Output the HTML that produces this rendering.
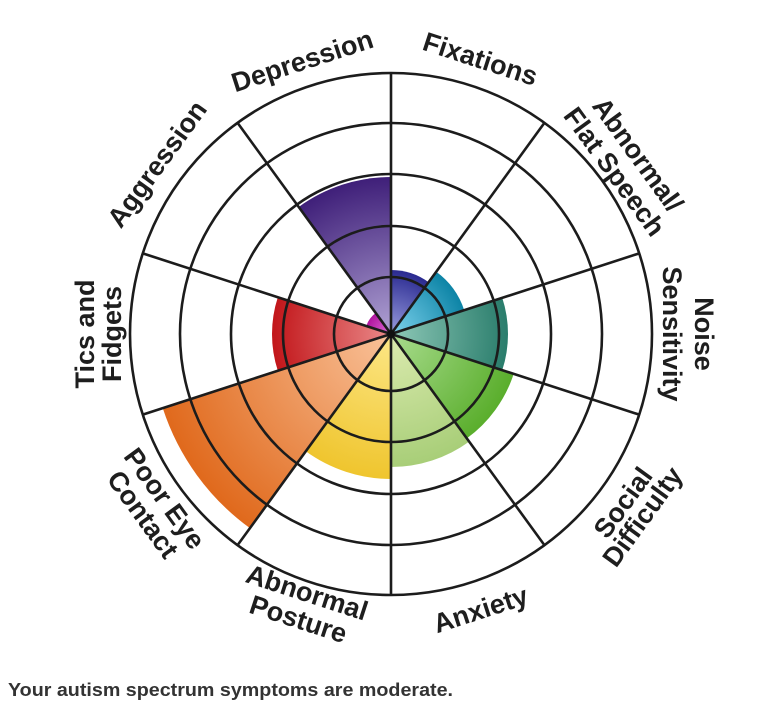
<!DOCTYPE html>
<html><head><meta charset="utf-8"><style>
html,body{margin:0;padding:0;background:#fff;width:784px;height:709px;overflow:hidden}
svg{display:block}
text{font-family:"Liberation Sans",sans-serif;font-weight:bold;fill:#1e1e1e}
</style></head><body>
<svg width="784" height="709" viewBox="0 0 784 709" xmlns="http://www.w3.org/2000/svg">
<defs>
<radialGradient id="g0" gradientUnits="userSpaceOnUse" cx="0" cy="0" r="64"><stop offset="0" stop-color="#9a9ee0"/><stop offset="1" stop-color="#2a2a90"/></radialGradient>
<radialGradient id="g1" gradientUnits="userSpaceOnUse" cx="0" cy="0" r="77"><stop offset="0" stop-color="#7fd3ee"/><stop offset="1" stop-color="#0d84a6"/></radialGradient>
<radialGradient id="g2" gradientUnits="userSpaceOnUse" cx="0" cy="0" r="117"><stop offset="0" stop-color="#8fc9b8"/><stop offset="1" stop-color="#2a7d6c"/></radialGradient>
<radialGradient id="g3" gradientUnits="userSpaceOnUse" cx="0" cy="0" r="129"><stop offset="0" stop-color="#a9dc8e"/><stop offset="1" stop-color="#5aae2c"/></radialGradient>
<radialGradient id="g4" gradientUnits="userSpaceOnUse" cx="0" cy="0" r="133"><stop offset="0" stop-color="#dcebb0"/><stop offset="1" stop-color="#a8ce78"/></radialGradient>
<radialGradient id="g5" gradientUnits="userSpaceOnUse" cx="0" cy="0" r="145"><stop offset="0" stop-color="#fde787"/><stop offset="1" stop-color="#efc52e"/></radialGradient>
<radialGradient id="g6" gradientUnits="userSpaceOnUse" cx="0" cy="0" r="240"><stop offset="0" stop-color="#f9c29a"/><stop offset="1" stop-color="#e0691c"/></radialGradient>
<radialGradient id="g7" gradientUnits="userSpaceOnUse" cx="0" cy="0" r="119"><stop offset="0" stop-color="#ea8a8a"/><stop offset="1" stop-color="#c2161a"/></radialGradient>
<radialGradient id="g8" gradientUnits="userSpaceOnUse" cx="0" cy="0" r="26"><stop offset="0" stop-color="#e070d8"/><stop offset="1" stop-color="#b0149e"/></radialGradient>
<radialGradient id="g9" gradientUnits="userSpaceOnUse" cx="0" cy="0" r="157"><stop offset="0" stop-color="#b0a2d4"/><stop offset="1" stop-color="#3f1f79"/></radialGradient>
</defs>
<g transform="translate(391,334)">
<path transform="rotate(0)" d="M0,0 L0,-64 A64,64 0 0 1 37.62,-51.78 Z" fill="url(#g0)"/>
<path transform="rotate(36)" d="M0,0 L0,-77 A77,77 0 0 1 45.26,-62.29 Z" fill="url(#g1)"/>
<path transform="rotate(72)" d="M0,0 L0,-117 A117,117 0 0 1 68.77,-94.65 Z" fill="url(#g2)"/>
<path transform="rotate(108)" d="M0,0 L0,-129 A129,129 0 0 1 75.83,-104.36 Z" fill="url(#g3)"/>
<path transform="rotate(144)" d="M0,0 L0,-133 A133,133 0 0 1 78.18,-107.6 Z" fill="url(#g4)"/>
<path transform="rotate(180)" d="M0,0 L0,-145 A145,145 0 0 1 85.23,-117.31 Z" fill="url(#g5)"/>
<path transform="rotate(216)" d="M0,0 L0,-240 A240,240 0 0 1 141.07,-194.16 Z" fill="url(#g6)"/>
<path transform="rotate(252)" d="M0,0 L0,-119 A119,119 0 0 1 69.95,-96.27 Z" fill="url(#g7)"/>
<path transform="rotate(288)" d="M0,0 L0,-26 A26,26 0 0 1 15.28,-21.03 Z" fill="url(#g8)"/>
<path transform="rotate(324)" d="M0,0 L0,-157 A157,157 0 0 1 92.28,-127.01 Z" fill="url(#g9)"/>
<g fill="none" stroke="#1c1c1c" stroke-width="2.6">
<circle r="57"/><circle r="108"/><circle r="160"/><circle r="211"/><circle r="261"/>
<line x1="0" y1="0" x2="0" y2="-261" transform="rotate(0)"/>
<line x1="0" y1="0" x2="0" y2="-261" transform="rotate(36)"/>
<line x1="0" y1="0" x2="0" y2="-261" transform="rotate(72)"/>
<line x1="0" y1="0" x2="0" y2="-261" transform="rotate(108)"/>
<line x1="0" y1="0" x2="0" y2="-261" transform="rotate(144)"/>
<line x1="0" y1="0" x2="0" y2="-261" transform="rotate(180)"/>
<line x1="0" y1="0" x2="0" y2="-261" transform="rotate(216)"/>
<line x1="0" y1="0" x2="0" y2="-261" transform="rotate(252)"/>
<line x1="0" y1="0" x2="0" y2="-261" transform="rotate(288)"/>
<line x1="0" y1="0" x2="0" y2="-261" transform="rotate(324)"/>
</g>
<circle r="4" fill="#111"/>
<g font-size="27" text-anchor="middle" dominant-baseline="central">
<g transform="rotate(-18)"><text x="0" y="-287">Depression</text></g>
<g transform="rotate(18)"><text x="0" y="-289">Fixations</text></g>
<g transform="rotate(-54)"><text x="0" y="-289">Aggression</text></g>
<g transform="rotate(54)"><text x="0" y="-305">Abnormal/</text><text x="0" y="-276">Flat Speech</text></g>
<g transform="rotate(90)"><text x="0" y="-313">Noise</text><text x="0" y="-281">Sensitivity</text></g>
<g transform="rotate(-90)"><text x="0" y="-306">Tics and</text><text x="0" y="-279">Fidgets</text></g>
<g transform="rotate(54)"><text x="0" y="280">Poor Eye</text><text x="0" y="307">Contact</text></g>
<g transform="rotate(18)"><text x="0" y="272">Abnormal</text><text x="0" y="300">Posture</text></g>
<g transform="rotate(-18)"><text x="0" y="290">Anxiety</text></g>
<g transform="rotate(-54)"><text x="0" y="287">Social</text><text x="0" y="311">Difficulty</text></g>
</g>
</g>
<text x="8" y="696" font-size="18" textLength="445" lengthAdjust="spacingAndGlyphs" style="fill:#333">Your autism spectrum symptoms are moderate.</text>
</svg>
</body></html>
